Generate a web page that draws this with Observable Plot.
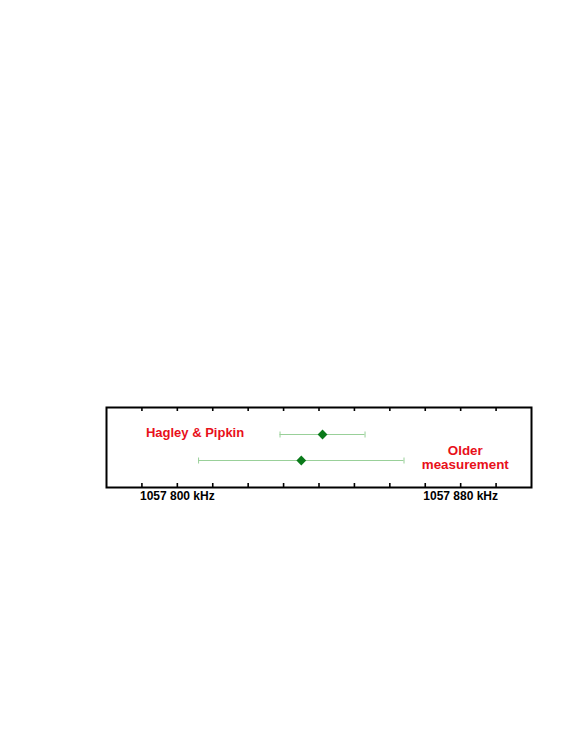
<!DOCTYPE html>
<html>
<head>
<meta charset="utf-8">
<script src="https://cdn.jsdelivr.net/npm/d3@7"></script>
<script src="https://cdn.jsdelivr.net/npm/@observablehq/plot@0.6"></script>
<style>
html,body{margin:0;padding:0;background:#fff;}
</style>
</head>
<body>
<div id="chart"></div>
<script>
// Data (kHz)
const measurements = ["Hagley & Pipkin", "Older measurement"];
const centers = [1057841, 1057835];
const lows = [1057829, 1057806];
const highs = [1057853, 1057864];

const tickValues = [1057790, 1057800, 1057810, 1057820, 1057830, 1057840, 1057850, 1057860, 1057870, 1057880, 1057890];
const labeledTicks = [1057800, 1057880];
const tickLabels = ["1057 800 kHz", "1057 880 kHz"];

const annotations = ["Hagley & Pipkin", "Older\nmeasurement"];
const annotationX = [1057805, 1057881.3];
const annotationRow = ["Hagley & Pipkin", "Older measurement"];

const rows = measurements.map((m, i) => ({m, c: centers[i], lo: lows[i], hi: highs[i]}));
const notes = annotations.map((t, i) => ({t, x: annotationX[i], row: annotationRow[i]}));

const capSymbol = {
  draw(context, size) {
    const h = Math.sqrt(size / Math.PI);
    context.moveTo(0, -h);
    context.lineTo(0, h);
  }
};

const font = "Liberation Sans, Arial, Helvetica, sans-serif";

const chart = Plot.plot({
  width: 581,
  height: 752,
  marginLeft: 106,
  marginRight: 50,
  marginTop: 407,
  marginBottom: 265,
  style: {fontFamily: font, background: "#fff"},
  x: {domain: [1057780, 1057900], axis: null},
  y: {type: "point", domain: measurements, padding: 1, axis: null},
  marks: [
    // tick marks inside frame, top and bottom
    Plot.ruleX(tickValues, {x: d => d, insetBottom: 76, stroke: "#000", strokeWidth: 1.6}),
    Plot.ruleX(tickValues, {x: d => d, insetTop: 76, stroke: "#000", strokeWidth: 1.6}),
    // error bars
    Plot.ruleY(rows, {y: "m", x1: "lo", x2: "hi", stroke: "#99d099", strokeWidth: 1}),
    Plot.dot(rows, {x: "lo", y: "m", symbol: capSymbol, r: 3, stroke: "#99d099", strokeWidth: 1}),
    Plot.dot(rows, {x: "hi", y: "m", symbol: capSymbol, r: 3, stroke: "#99d099", strokeWidth: 1}),
    // central values
    Plot.dot(rows, {x: "c", y: "m", symbol: "diamond2", r: 4.4, fill: "#0a7a1a", stroke: "none"}),
    // annotations
    Plot.text(notes.slice(0, 1), {x: "x", y: "row", text: "t", fill: "#e8101a", fontSize: 13, fontWeight: "bold", textAnchor: "middle", dy: -1.5}),
    Plot.text(notes.slice(1), {x: "x", y: "row", text: "t", fill: "#e8101a", fontSize: 13.4, fontWeight: "bold", textAnchor: "middle", lineHeight: 1.05, dy: -3}),
    // tick labels
    Plot.text(labeledTicks, {x: d => d, frameAnchor: "bottom", text: (d, i) => tickLabels[i], dy: 12, fill: "#000", fontSize: 12, fontWeight: "bold", textAnchor: "middle"}),
    Plot.frame({stroke: "#000", strokeWidth: 2})
  ]
});

document.getElementById("chart").appendChild(chart);
</script>
</body>
</html>
